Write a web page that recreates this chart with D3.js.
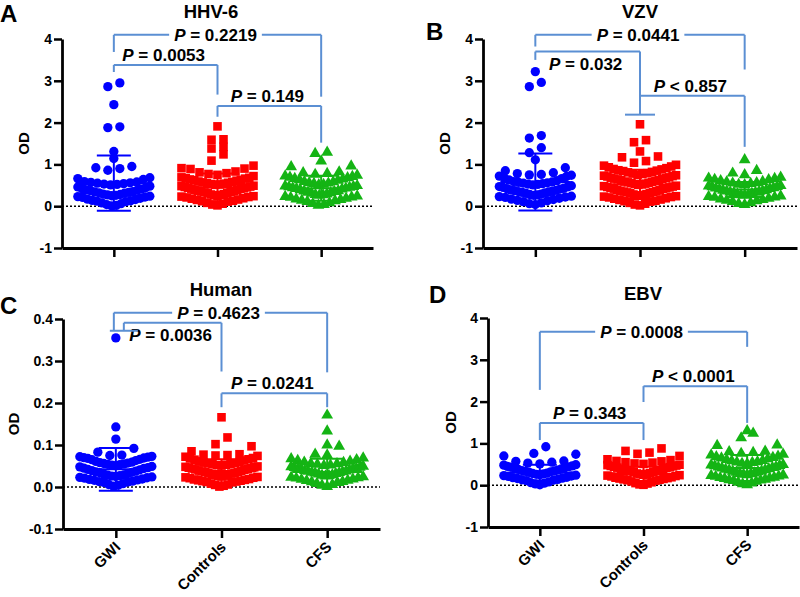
<!DOCTYPE html>
<html>
<head>
<meta charset="utf-8">
<script src="https://cdn.jsdelivr.net/npm/d3@7"></script>
<style>
  body { margin: 0; background: #fff; }
  svg { display: block; font-family: "Liberation Sans", Arial, sans-serif; font-weight: 700; }
</style>
</head>
<body>
<svg width="800" height="597"></svg>
<script>
/* groups */
const groups = ["GWI", "Controls", "CFS"];
const colors = ["#0000ff", "#ff0000", "#14b414"];

/* A: HHV-6 (OD values) */
const hhv6GWI = [2.95,2.86,2.43,1.90,1.88,1.31,1.14,0.95,0.92,0.90,0.86,0.68,0.66,0.64,
  0.59,0.58,0.57,0.56,0.55,0.54,0.53,0.52,0.51,
  0.48,0.46,0.44,0.42,0.41,
  0.39,0.38,0.37,0.35,0.34,0.33,0.32,0.31,
  0.29,0.28,0.27,0.26,0.25,0.24,0.23,0.22,0.21,
  0.19,0.17,0.16,0.14,0.13,0.12,0.11,
  0.08,0.06,0.04,0.02,0.01];
const hhv6Ctrl = [1.91,1.60,1.59,1.42,1.38,1.24,1.09,0.97,0.91,0.90,0.89,0.83,0.81,
  0.79,0.77,0.75,0.72,
  0.69,0.68,0.67,0.66,0.64,0.63,0.62,0.61,
  0.59,0.58,0.57,0.56,0.55,0.54,0.53,0.52,0.51,
  0.49,0.48,0.47,0.46,0.45,0.44,0.43,0.42,0.41,
  0.39,0.38,0.37,0.36,0.35,0.34,0.33,0.32,0.31,
  0.29,0.28,0.27,0.26,0.25,0.24,0.23,0.22,0.21,
  0.19,0.18,0.16,0.15,0.13,0.12,0.11,
  0.08,0.06,0.04,0.02];
const hhv6CFS = [1.29,1.26,1.08,0.96,0.94,0.82,0.80,
  0.78,0.76,0.74,0.72,0.71,
  0.69,0.68,0.66,0.65,0.63,0.62,
  0.59,0.58,0.56,0.55,0.54,0.52,0.51,
  0.49,0.48,0.47,0.46,0.45,0.44,0.43,0.42,0.41,
  0.39,0.37,0.36,0.35,0.33,0.32,0.31,
  0.29,0.28,0.27,0.26,0.24,0.23,0.22,0.21,
  0.19,0.17,0.16,0.14,0.13,0.11,
  0.08,0.06,0.04,0.02];
const hhv6Mean = [0.55, 0.45, 0.43];
const hhv6SD   = [0.66, 0.33, 0.30];

/* B: VZV */
const vzvGWI = [3.22,2.96,2.86,1.69,1.63,1.40,1.28,1.11,0.92,0.85,0.80,0.78,0.76,0.75,0.74,0.72,0.71,
  0.68,0.66,0.63,0.61,
  0.59,0.58,0.57,0.56,0.55,0.54,0.53,0.52,0.51,
  0.49,0.47,0.46,0.45,0.43,0.42,0.41,
  0.39,0.38,0.37,0.36,0.35,0.34,0.33,0.32,0.31,
  0.29,0.28,0.27,0.26,0.24,0.23,0.22,0.21,
  0.19,0.17,0.16,0.14,0.13,0.11,
  0.08,0.06,0.04];
const vzvCtrl = [1.96,1.58,1.53,1.31,1.19,1.17,1.08,1.04,
  0.99,0.97,0.95,0.93,0.91,
  0.89,0.88,0.86,0.85,0.84,0.82,0.81,
  0.79,0.78,0.77,0.75,0.74,0.73,0.72,0.71,
  0.69,0.68,0.67,0.66,0.65,0.64,0.63,0.62,0.61,
  0.59,0.58,0.57,0.56,0.55,0.54,0.53,0.52,0.51,
  0.49,0.48,0.47,0.46,0.45,0.44,0.43,0.42,0.41,
  0.39,0.38,0.37,0.36,0.35,0.34,0.33,0.32,0.31,
  0.29,0.28,0.27,0.26,0.25,0.24,0.23,0.22,0.21,
  0.19,0.18,0.16,0.15,0.13,0.12,0.11,
  0.08,0.06,0.04,0.02];
const vzvCFS = [1.11,0.85,0.79,0.75,
  0.69,0.67,0.66,0.64,0.63,0.61,
  0.59,0.58,0.56,0.55,0.54,0.52,0.51,
  0.49,0.48,0.47,0.46,0.44,0.43,0.42,0.41,
  0.39,0.38,0.37,0.36,0.35,0.34,0.33,0.32,0.31,
  0.29,0.28,0.27,0.26,0.24,0.23,0.22,0.21,
  0.19,0.17,0.16,0.14,0.13,0.11,
  0.08,0.06,0.04];
const vzvMean = [0.58, 0.52, 0.40];
const vzvSD   = [0.68, 0.35, 0.18];

/* C: Human */
const humGWI = [0.355,0.143,0.114,0.092,0.083,
  0.076,0.075,0.073,0.072,0.071,0.070,
  0.069,0.068,0.066,0.065,0.063,0.061,
  0.059,0.058,0.057,0.056,0.055,0.054,0.053,0.052,0.051,
  0.049,0.048,0.046,0.045,0.044,0.042,0.041,
  0.039,0.038,0.036,0.035,0.034,0.032,0.031,
  0.029,0.028,0.027,0.026,0.025,0.024,0.023,0.022,0.021,
  0.019,0.018,0.017,0.016,0.014,0.013,0.012,0.011,
  0.008,0.006,0.004,0.002];
const humCtrl = [0.166,0.118,0.102,0.097,0.085,
  0.078,0.077,0.076,0.075,0.074,0.072,
  0.069,0.068,0.066,0.065,0.063,0.061,
  0.059,0.058,0.057,0.056,0.055,0.054,0.053,0.052,0.051,
  0.049,0.048,0.047,0.046,0.045,0.044,0.043,0.042,0.041,
  0.039,0.038,0.037,0.036,0.035,0.034,0.033,0.032,0.031,
  0.029,0.028,0.027,0.026,0.025,0.024,0.023,0.022,0.021,
  0.019,0.018,0.017,0.016,0.015,0.014,0.013,0.012,0.011,
  0.008,0.006,0.005,0.003,0.001];
const humCFS = [0.171,0.133,0.100,0.097,0.078,0.076,
  0.069,0.067,0.065,0.063,0.061,
  0.059,0.058,0.056,0.055,0.054,0.052,0.051,
  0.049,0.048,0.047,0.046,0.045,0.044,0.043,0.042,0.041,
  0.039,0.038,0.037,0.036,0.035,0.034,0.033,0.032,0.031,
  0.029,0.028,0.027,0.026,0.024,0.023,0.022,0.021,
  0.019,0.018,0.016,0.015,0.013,0.012,0.011,
  0.008,0.006,0.004,0.001];
const humMean = [0.042, 0.038, 0.036];
const humSD   = [0.051, 0.028, 0.031];

/* D: EBV */
const ebvGWI = [0.92,0.76,0.74,0.70,0.58,0.57,
  0.55,0.53,0.51,
  0.49,0.48,0.46,0.45,0.44,0.43,0.42,0.41,
  0.39,0.38,0.36,0.35,0.34,0.33,0.32,0.31,
  0.29,0.28,0.27,0.26,0.25,0.24,0.23,0.22,0.21,
  0.19,0.18,0.17,0.16,0.14,0.13,0.12,0.11,
  0.08,0.06,0.05,0.03,0.01];
const ebvCtrl = [0.88,0.82,0.78,0.75,0.70,0.62,0.60,
  0.58,0.57,0.55,0.54,0.52,0.51,
  0.49,0.48,0.47,0.46,0.45,0.44,0.43,0.42,0.41,
  0.39,0.38,0.37,0.36,0.35,0.34,0.33,0.32,0.31,
  0.29,0.28,0.27,0.26,0.25,0.24,0.23,0.22,0.21,
  0.19,0.18,0.17,0.16,0.15,0.14,0.13,0.12,0.11,
  0.09,0.07,0.05,0.04,0.02,0.01];
const ebvCFS = [1.30,1.24,1.13,0.96,0.95,0.81,0.80,
  0.78,0.76,0.74,0.72,
  0.69,0.68,0.66,0.65,0.63,0.61,
  0.59,0.58,0.56,0.55,0.54,0.52,0.51,
  0.49,0.48,0.47,0.46,0.44,0.43,0.42,0.41,
  0.39,0.38,0.37,0.36,0.34,0.33,0.32,0.31,
  0.29,0.28,0.27,0.26,0.25,0.24,0.23,0.22,0.21,
  0.19,0.18,0.17,0.16,0.14,0.13,0.12,0.11,
  0.09,0.07,0.05,0.03,0.01];
const ebvMean = [0.30, 0.27, 0.41];
const ebvSD   = [0.19, 0.17, 0.31];

/* tick values */
const odTicks    = [-1, 0, 1, 2, 3, 4];
const humanTicks = [-0.1, 0, 0.1, 0.2, 0.3, 0.4];

/* significance brackets: groups a-b, bar height, leg ends (OD units) */
const hhv6Brackets = [
  {a: 0, b: 2, y: 4.10, ya: 3.69, yb: 2.62, txt: "= 0.2219", pos: "gap"},
  {a: 0, b: 1, y: 3.38, ya: 3.21, yb: 2.67, txt: "= 0.0053", pos: "above"},
  {a: 1, b: 2, y: 2.40, ya: 2.14, yb: 1.52, txt: "= 0.149",  pos: "above"}
];
const vzvBrackets = [
  {a: 0, b: 2, y: 4.10, ya: 3.82, yb: 3.27, txt: "= 0.0441", pos: "gap"},
  {a: 0, b: 1, y: 3.70, ya: 3.50, yb: 2.19, txt: "= 0.032",  pos: "below", capB: 15},
  {a: 1, b: 2, y: 2.64, ya: 2.19, yb: 1.42, txt: "< 0.857",  pos: "above"}
];
const humBrackets = [
  {a: 0, b: 2, y: 0.415, ya: 0.372, yb: 0.273, txt: "= 0.4623", pos: "gap", offA: -2},
  {a: 0, b: 1, y: 0.391, ya: 0.372, yb: 0.275, txt: "= 0.0036", pos: "below", offA: 8, capA: 14},
  {a: 1, b: 2, y: 0.223, ya: 0.190, yb: 0.190, txt: "= 0.0241", pos: "above"}
];
const ebvBrackets = [
  {a: 0, b: 2, y: 3.67, ya: 2.28, yb: 3.31, txt: "= 0.0008", pos: "gap"},
  {a: 1, b: 2, y: 2.37, ya: 1.99, yb: 1.49, txt: "< 0.0001", pos: "above"},
  {a: 0, b: 1, y: 1.49, ya: 1.08, yb: 1.08, txt: "= 0.343",  pos: "above"}
];

/* panel layout */
const intFmt = d => String(d);
const decFmt = d => d.toFixed(1);
const panels = [
  {letter: "A", lx: 0,   ly: 22,  title: "HHV-6", tx: 211, ty: 18,  odX: 24,
   series: [hhv6GWI, hhv6Ctrl, hhv6CFS], mean: hhv6Mean, sd: hhv6SD, ticks: odTicks, fmt: intFmt,
   brackets: hhv6Brackets, binV: 0.25, x0: 62, x1: 373, y0: 39, y1: 248, catLabels: false},
  {letter: "B", lx: 426, ly: 40,  title: "VZV", tx: 640, ty: 18, odX: 445,
   series: [vzvGWI, vzvCtrl, vzvCFS], mean: vzvMean, sd: vzvSD, ticks: odTicks, fmt: intFmt,
   brackets: vzvBrackets, binV: 0.25, x0: 483, x1: 797, y0: 39, y1: 248, catLabels: false},
  {letter: "C", lx: 0,   ly: 314, title: "Human", tx: 221, ty: 296, odX: 14,
   series: [humGWI, humCtrl, humCFS], mean: humMean, sd: humSD, ticks: humanTicks, fmt: decFmt,
   brackets: humBrackets, binV: 0.025, x0: 63, x1: 380, y0: 319, y1: 529, catLabels: true},
  {letter: "D", lx: 429, ly: 303, title: "EBV", tx: 643, ty: 300, odX: 451,
   series: [ebvGWI, ebvCtrl, ebvCFS], mean: ebvMean, sd: ebvSD, ticks: odTicks, fmt: intFmt,
   brackets: ebvBrackets, binV: 0.25, x0: 488, x1: 799, y0: 318, y1: 527, catLabels: true}
];

const svg = d3.select("svg");
const bracketColor = "#5b8fd3";
const symbolTypes = [d3.symbolCircle, d3.symbolSquare, d3.symbolTriangle];
const symbolSizes = [68, 74, 60];
const maxSpread = 72;

// GraphPad-like scatter: values binned by height, each bin spread sideways with its lowest value in the middle
function swarm(vals, y, cx, binV) {
  const bins = d3.group(vals, v => Math.floor(v / binV + 1e-6));
  const out = [];
  for (const [, arr] of bins) {
    const sorted = arr.slice().sort((p, q) => p - q);
    const n = sorted.length;
    const step = n > 1 ? Math.min(12, maxSpread / (n - 1)) : 0;
    const slots = d3.range(n).map(i => (i - (n - 1) / 2) * step);
    slots.sort((p, q) => Math.abs(p) - Math.abs(q) || p - q);
    sorted.forEach((v, k) => out.push({v: v, x: cx + slots[k], y: y(v)}));
  }
  return out;
}

panels.forEach(p => {
  const g = svg.append("g");
  const y = d3.scaleLinear().domain(d3.extent(p.ticks)).range([p.y1, p.y0]);
  const x = d3.scalePoint().domain(groups).range([p.x0, p.x1]).padding(0.5);

  // letter + title
  g.append("text").attr("x", p.lx).attr("y", p.ly).attr("font-size", 24).text(p.letter);
  g.append("text").attr("x", p.tx).attr("y", p.ty).attr("font-size", 18.5)
    .attr("text-anchor", "middle").text(p.title);

  // y label
  g.append("text")
    .attr("transform", `translate(${p.odX},${(p.y0 + p.y1) / 2}) rotate(-90)`)
    .attr("text-anchor", "middle").attr("dy", "0.35em").attr("font-size", 15).text("OD");

  // zero line
  g.append("line")
    .attr("x1", p.x0).attr("x2", p.x1).attr("y1", y(0)).attr("y2", y(0))
    .attr("stroke", "#000").attr("stroke-width", 1.5).attr("stroke-dasharray", "2,2");

  // axes
  const yAxis = g.append("g").attr("transform", `translate(${p.x0},0)`)
    .call(d3.axisLeft(y).tickValues(p.ticks).tickFormat(p.fmt).tickSize(8).tickPadding(2).tickSizeOuter(0));
  const xAxis = g.append("g").attr("transform", `translate(0,${p.y1})`)
    .call(d3.axisBottom(x).tickSize(9).tickSizeOuter(0).tickFormat(d => p.catLabels ? d : ""));
  [yAxis, xAxis].forEach(ax => {
    ax.attr("font-family", null);
    ax.select(".domain").attr("stroke-width", 2.8);
    ax.selectAll(".tick line").attr("stroke-width", 2.5);
    ax.selectAll("text").attr("font-size", 14).attr("fill", "#000");
  });
  if (p.catLabels) {
    xAxis.selectAll(".tick text")
      .attr("y", null).attr("dy", null)
      .attr("text-anchor", "end").attr("font-size", 15)
      .attr("transform", "translate(5,19) rotate(-45)");
  }

  // points
  p.series.forEach((vals, gi) => {
    const pts = swarm(vals, y, x(groups[gi]), p.binV);
    g.append("g").selectAll("path").data(pts).enter().append("path")
      .attr("transform", d => `translate(${d.x},${d.y})`)
      .attr("d", d3.symbol().type(symbolTypes[gi]).size(symbolSizes[gi]))
      .attr("fill", colors[gi]);
  });

  // mean +- SD
  p.series.forEach((vals, gi) => {
    const cx = x(groups[gi]), m = p.mean[gi], s = p.sd[gi];
    const eg = g.append("g").attr("stroke", colors[gi]).attr("stroke-width", 2);
    eg.append("line").attr("x1", cx - 35).attr("x2", cx + 35).attr("y1", y(m)).attr("y2", y(m));
    eg.append("line").attr("x1", cx).attr("x2", cx).attr("y1", y(m - s)).attr("y2", y(m + s));
    [m - s, m + s].forEach(v => {
      eg.append("line").attr("x1", cx - 17).attr("x2", cx + 17).attr("y1", y(v)).attr("y2", y(v));
    });
  });

  // brackets
  p.brackets.forEach(b => {
    const xa = x(groups[b.a]) + (b.offA || 0), xb = x(groups[b.b]);
    const yl = y(b.y);
    const cx = (xa + xb) / 2 - 2;
    const bg = g.append("g");
    const label = bg.append("text").attr("text-anchor", "middle").attr("font-size", 17).attr("x", cx);
    label.append("tspan").attr("font-style", "italic").text("P");
    label.append("tspan").text(" " + b.txt);
    let ty = yl - 4;
    if (b.pos === "gap") ty = yl + 6;
    if (b.pos === "below") ty = yl + 18;
    label.attr("y", ty);

    const lines = [];
    lines.push([[xa, y(b.ya)], [xa, yl]]);
    lines.push([[xb, y(b.yb)], [xb, yl]]);
    if (b.pos === "gap") {
      const w = label.node().getComputedTextLength();
      lines.push([[xa, yl], [cx - w / 2 - 5, yl]]);
      lines.push([[cx + w / 2 + 5, yl], [xb, yl]]);
    } else {
      lines.push([[xa, yl], [xb, yl]]);
    }
    if (b.capA) lines.push([[xa - b.capA, y(b.ya)], [xa + b.capA, y(b.ya)]]);
    if (b.capB) lines.push([[xb - b.capB, y(b.yb)], [xb + b.capB, y(b.yb)]]);
    bg.selectAll("path.br").data(lines).enter().append("path")
      .attr("d", d3.line())
      .attr("fill", "none").attr("stroke", bracketColor).attr("stroke-width", 2);
  });
});
</script>
</body>
</html>
